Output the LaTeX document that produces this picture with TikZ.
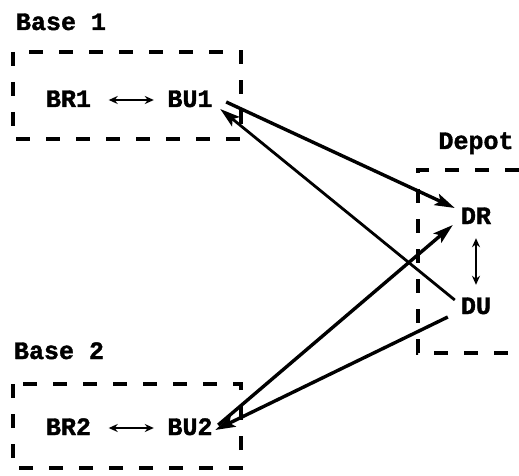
\documentclass[tikz,border=0pt]{standalone}
\usepackage{fontspec}
\setmainfont{Liberation Mono}[BoldFeatures={FakeBold=1.5}]
\usetikzlibrary{arrows.meta}
\begin{document}
\begin{tikzpicture}[x=1pt,y=-1pt,
  lbl/.style={font=\fontsize{25}{25}\selectfont\bfseries, inner sep=0pt, text height=14pt, text depth=0pt},
  dbox/.style={line width=3.2pt, dash pattern=on 14pt off 16pt},
  big/.style={line width=3.4pt, -{Stealth[length=20pt,width=12pt,inset=4pt]}},
  small/.style={line width=2.6pt, {Stealth[length=9pt,width=8pt]}-{Stealth[length=9pt,width=8pt]}}]
\useasboundingbox (0,0) rectangle (519,476);
% labels
\node[lbl] (b1lab) at (61,23) {Base 1};
\node[lbl] (b2lab) at (59,352) {Base 2};
\node[lbl] (deplab) at (476,142) {Depot};
\node[lbl] (br1) at (68.5,100) {BR1};
\node[lbl] (bu1) at (190,100) {BU1};
\node[lbl] (br2) at (68.5,428) {BR2};
\node[lbl] (bu2) at (190,428) {BU2};
\node[lbl] (dr) at (476,217) {DR};
\node[lbl] (du) at (476,307) {DU};
% dashed boxes
\draw[dbox] (13,52) rectangle (241,139);
\draw[dbox] (13,384) rectangle (241,468);
\draw[dbox] (519,170) -- (418,170) -- (418,353) -- (519,353);
% local arrows
\draw[small] ([shift={(17.5,0)}]br1.east) -- ([shift={(-13.5,0)}]bu1.west);
\draw[small] ([shift={(17.5,0)}]br2.east) -- ([shift={(-13.5,0)}]bu2.west);
\draw[small] ([shift={(0,14)}]dr.south) -- ([shift={(0,-15)}]du.north);
% long arrows
\draw[big] ([shift={(13.5,2)}]bu1.east) -- ([shift={(-6,-9)}]dr.west);
\draw[big, line width=2.8pt] ([shift={(-6,-7)}]du.west) -- ([shift={(7.5,9)}]bu1.east);
\draw[big] ([shift={(5.5,-3)}]bu2.east) -- ([shift={(-8,8)}]dr.west);
\draw[big] ([shift={(-13,10)}]du.west) -- ([shift={(2.5,2)}]bu2.east);
\end{tikzpicture}
\end{document}
